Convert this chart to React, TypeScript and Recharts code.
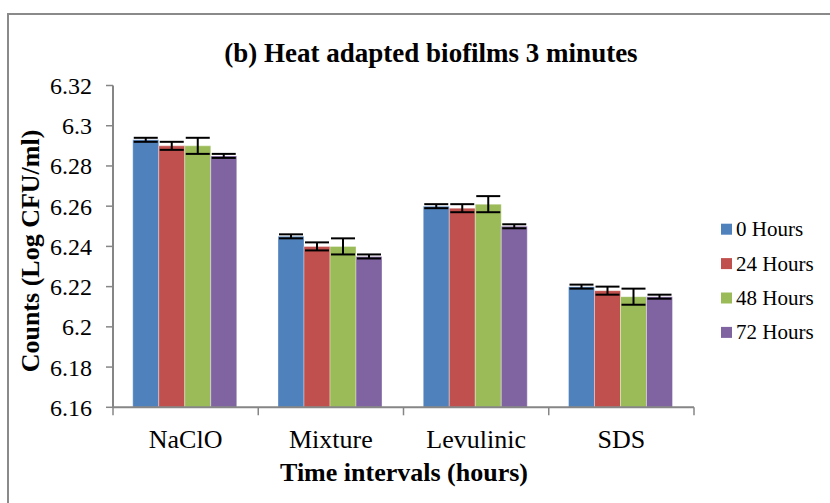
import React from 'react';
import { BarChart, Bar, XAxis, YAxis, ErrorBar, Legend } from 'recharts';

// Treatments along the x axis
const categories = ['NaClO', 'Mixture', 'Levulinic', 'SDS'];

// Mean counts (Log CFU/ml) for each storage interval
const hours0 = [6.293, 6.245, 6.26, 6.22];
const hours24 = [6.29, 6.24, 6.259, 6.218];
const hours48 = [6.29, 6.24, 6.261, 6.215];
const hours72 = [6.285, 6.235, 6.25, 6.215];

// Standard deviations drawn as error bars
const err0 = [0.001, 0.001, 0.001, 0.001];
const err24 = [0.002, 0.002, 0.002, 0.002];
const err48 = [0.004, 0.004, 0.004, 0.004];
const err72 = [0.001, 0.001, 0.001, 0.001];

const seriesNames = ['0 Hours', '24 Hours', '48 Hours', '72 Hours'];
const seriesColors = ['#4F81BD', '#C0504D', '#9BBB59', '#8064A2'];

const yTicks = [6.16, 6.18, 6.2, 6.22, 6.24, 6.26, 6.28, 6.3, 6.32];

const data = categories.map((name, i) => ({
  name,
  h0: hours0[i],
  h24: hours24[i],
  h48: hours48[i],
  h72: hours72[i],
  e0: err0[i],
  e24: err24[i],
  e48: err48[i],
  e72: err72[i],
}));

const FONT = 'Liberation Serif';
const AXIS_GREY = '#868686';

const W = 830;
const H = 503;
const MARGIN = { top: 85.5, right: 136, bottom: 55.7, left: 0 };
const Y_AXIS_WIDTH = 113;
const X_AXIS_HEIGHT = 40;
const PLOT_WIDTH = W - MARGIN.left - MARGIN.right - Y_AXIS_WIDTH;
const HALF_BAND = PLOT_WIDTH / categories.length / 2;

// Category label plus tick marks on the category boundaries
const CategoryTick = (props: any) => {
  const { x, y, payload, index } = props;
  return (
    <g>
      <line x1={x - HALF_BAND} x2={x - HALF_BAND} y1={y} y2={y + 8} stroke={AXIS_GREY} strokeWidth={1.5} />
      {index === categories.length - 1 && (
        <line x1={x + HALF_BAND} x2={x + HALF_BAND} y1={y} y2={y + 8} stroke={AXIS_GREY} strokeWidth={1.5} />
      )}
      <text x={x} y={y + 41} textAnchor="middle" fontFamily={FONT} fontSize={26} fill="#000">
        {payload.value}
      </text>
    </g>
  );
};

// Value label on the y axis, right-aligned and vertically centred on the tick
const ValueTick = (props: any) => {
  const { x, y, payload } = props;
  return (
    <text x={x} y={y + 8.5} textAnchor="end" fontFamily={FONT} fontSize={24} fill="#000">
      {String(Number(Number(payload.value).toFixed(2)))}
    </text>
  );
};

const LegendContent = (props: any) => {
  const { payload } = props;
  return (
    <svg width={110} height={140} style={{ display: 'block' }}>
      {(payload || []).map((entry: any, i: number) => {
        const cy = 17.2 + i * 34.4;
        return (
          <g key={entry.value}>
            <rect x={0} y={cy - 5.5} width={11} height={11} fill={entry.color} />
            <text x={15} y={cy + 7} fontFamily={FONT} fontSize={21} fill="#000">
              {entry.value}
            </text>
          </g>
        );
      })}
    </svg>
  );
};

export default function App() {
  const keys = ['h0', 'h24', 'h48', 'h72'];
  const errKeys = ['e0', 'e24', 'e48', 'e72'];
  return (
    <div style={{ position: 'absolute', left: 0, top: 0, width: W, height: H, background: '#fff', overflow: 'hidden' }}>
      <div
        style={{
          position: 'absolute',
          left: 7,
          top: 13,
          width: W + 20,
          height: H + 20,
          border: '2px solid #8a8a8a',
          boxSizing: 'border-box',
        }}
      />
      <div style={{ position: 'absolute', left: 0, top: 0 }}>
        <BarChart width={W} height={H} data={data} margin={MARGIN} barCategoryGap="13.6%" barGap={0}>
          <XAxis
            dataKey="name"
            height={X_AXIS_HEIGHT}
            axisLine={{ stroke: AXIS_GREY, strokeWidth: 2 }}
            tickLine={false}
            tickSize={0}
            tickMargin={0}
            tick={<CategoryTick />}
            interval={0}
          />
          <YAxis
            width={Y_AXIS_WIDTH}
            domain={[6.16, 6.32]}
            ticks={yTicks}
            interval={0}
            axisLine={{ stroke: AXIS_GREY, strokeWidth: 2 }}
            tickLine={{ stroke: AXIS_GREY, strokeWidth: 1.5 }}
            tickSize={7}
            tickMargin={14}
            tick={<ValueTick />}
          />
          <Legend
            layout="vertical"
            align="center"
            verticalAlign="middle"
            content={<LegendContent />}
            wrapperStyle={{ left: 721, top: 212.3, width: 110 }}
          />
          {keys.map((k, i) => (
            <Bar
              key={k}
              dataKey={k}
              name={seriesNames[i]}
              fill={seriesColors[i]}
              stroke="#ffffff"
              strokeOpacity={0.35}
              strokeWidth={1}
              isAnimationActive={false}
            >
              <ErrorBar dataKey={errKeys[i]} width={12} strokeWidth={2} stroke="#000" isAnimationActive={false} />
            </Bar>
          ))}
        </BarChart>
      </div>
      <svg width={W} height={H} style={{ position: 'absolute', left: 0, top: 0, pointerEvents: 'none' }}>
        <text x={431} y={62} textAnchor="middle" fontFamily={FONT} fontSize={27} fontWeight="bold" fill="#000">
          (b) Heat adapted biofilms 3 minutes
        </text>
        <text
          x={39}
          y={251}
          transform="rotate(-90 39 251)"
          textAnchor="middle"
          fontFamily={FONT}
          fontSize={26}
          fontWeight="bold"
          fill="#000"
        >
          Counts (Log CFU/ml)
        </text>
        <text x={404} y={481} textAnchor="middle" fontFamily={FONT} fontSize={26} fontWeight="bold" fill="#000">
          Time intervals (hours)
        </text>
      </svg>
    </div>
  );
}
